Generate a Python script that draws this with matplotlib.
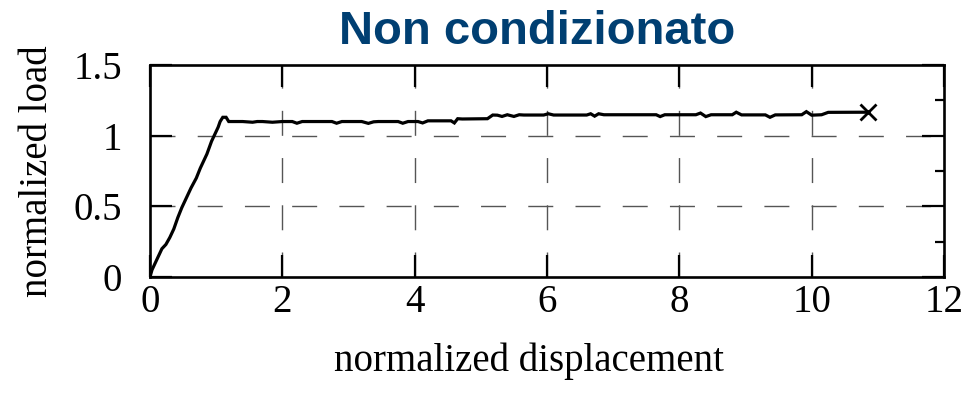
import matplotlib
matplotlib.use("Agg")
import matplotlib.pyplot as plt
from matplotlib.ticker import MultipleLocator

# ---- data ----
disp = [0.0, 0.03, 0.08, 0.13, 0.18, 0.24, 0.30, 0.36, 0.42, 0.48, 0.55, 0.62,
        0.70, 0.76, 0.80, 0.86, 0.93, 0.98, 1.03, 1.06, 1.10, 1.15, 1.19, 1.22,
        1.40, 1.55, 1.62, 1.70, 1.85, 2.00, 2.15, 2.22, 2.30, 2.55, 2.75, 2.82,
        2.90, 3.20, 3.30, 3.38, 3.45, 3.75, 3.82, 3.90, 4.05, 4.12, 4.20, 4.55,
        4.60, 4.65, 4.72, 5.10, 5.18, 5.25, 5.32, 5.40, 5.50, 5.58, 5.65, 5.95,
        6.02, 6.10, 6.60, 6.66, 6.72, 6.78, 6.86, 7.65, 7.71, 7.78, 7.90, 8.25,
        8.32, 8.40, 8.48, 8.80, 8.86, 8.94, 9.30, 9.37, 9.45, 9.85, 9.92, 10.00,
        10.15, 10.25, 10.85]
load = [0.0, 0.05, 0.10, 0.15, 0.20, 0.23, 0.28, 0.34, 0.42, 0.49, 0.56, 0.63,
        0.70, 0.77, 0.81, 0.87, 0.96, 1.01, 1.06, 1.10, 1.13, 1.13, 1.10, 1.10,
        1.10, 1.095, 1.10, 1.10, 1.095, 1.10, 1.10, 1.088, 1.10, 1.10, 1.10, 1.088,
        1.10, 1.10, 1.087, 1.098, 1.10, 1.10, 1.088, 1.10, 1.10, 1.09, 1.105, 1.105,
        1.09, 1.12, 1.118, 1.12, 1.146, 1.145, 1.136, 1.148, 1.136, 1.148, 1.146, 1.146,
        1.155, 1.146, 1.146, 1.155, 1.138, 1.155, 1.148, 1.148, 1.135, 1.148, 1.148, 1.148,
        1.160, 1.135, 1.148, 1.148, 1.166, 1.147, 1.147, 1.130, 1.147, 1.148, 1.170, 1.145,
        1.148, 1.165, 1.166]

xticks = [0, 2, 4, 6, 8, 10, 12]
yticks = [0, 0.5, 1, 1.5]
ytick_labels = ["0", "0.5", "1", "1.5"]

title = "Non condizionato"
xlabel = "normalized displacement"
ylabel = "normalized load"

# ---- figure ----
fig = plt.figure(figsize=(9.78, 3.93), dpi=100)
ax = fig.add_axes([150/978, 1-277/393, 794/978, 212/393])

serif = "Liberation Serif"

ax.plot(disp, load, color="black", lw=2.3, solid_joinstyle="miter")
ax.plot([disp[-1]], [load[-1]], marker="x", color="black", ms=12, mew=2.0)

ax.set_xlim(0, 12)
ax.set_ylim(0, 1.5)
ax.set_xticks(xticks)
ax.set_yticks(yticks)
ax.set_yticklabels(ytick_labels)
ax.yaxis.set_minor_locator(MultipleLocator(0.25))

for lab in ax.get_xticklabels() + ax.get_yticklabels():
    lab.set_fontfamily(serif)
    lab.set_fontsize(28)

ax.tick_params(axis="both", which="major", direction="in", length=16, width=1.6,
               top=True, right=True, color="black")
ax.tick_params(axis="x", which="major", pad=5)
ax.tick_params(axis="y", which="major", pad=20)
ax.tick_params(axis="y", which="minor", direction="in", length=6.5, width=1.6,
               left=False, right=True)

for s in ax.spines.values():
    s.set_linewidth(1.9)
    s.set_color("black")

# dashed grid, excluding the border lines
for xv in xticks[1:-1]:
    ax.axvline(xv, color="#555555", lw=1.0, ls=(0, (18, 16)), zorder=0.5)
for yv in yticks[1:-1]:
    ax.axhline(yv, color="#555555", lw=1.0, ls=(0, (18, 16)), zorder=0.5)

ax.set_xlabel(xlabel, fontfamily=serif, fontsize=28)
ax.set_ylabel(ylabel, fontfamily=serif, fontsize=28)
ax.xaxis.set_label_coords(0.477, -0.31)
ax.yaxis.set_label_coords(-0.118, 0.5)

fig.text(537/978, 1-44/393, title, ha="center", va="baseline",
         fontfamily="Liberation Sans", fontweight="bold", fontsize=34,
         color="#003F72")

fig.savefig("out.png", dpi=100)
